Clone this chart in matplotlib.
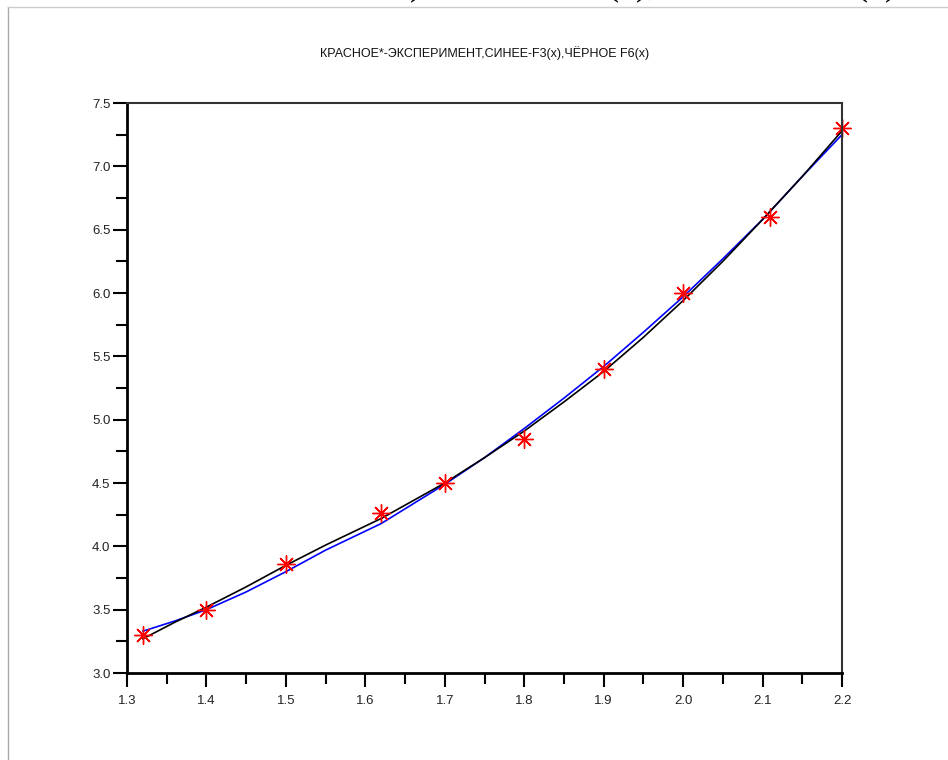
import numpy as np
import matplotlib
matplotlib.use("Agg")
import matplotlib.pyplot as plt
from matplotlib.lines import Line2D
from matplotlib.ticker import MultipleLocator

# experimental points (red asterisks)
x_exp = [1.32, 1.40, 1.50, 1.62, 1.70, 1.80, 1.90, 2.00, 2.11, 2.20]
y_exp = [3.30, 3.50, 3.86, 4.26, 4.50, 4.85, 5.40, 6.00, 6.60, 7.30]

# curves
x_fit = [1.32, 1.36, 1.40, 1.45, 1.50, 1.55, 1.62, 1.70, 1.75, 1.80,
         1.85, 1.90, 1.95, 2.00, 2.05, 2.10, 2.15, 2.20]
y_f3 = [3.33, 3.41, 3.50, 3.64, 3.80, 3.97, 4.18, 4.49, 4.70, 4.93,
        5.17, 5.42, 5.69, 5.97, 6.27, 6.58, 6.92, 7.25]
y_f6 = [3.27, 3.40, 3.52, 3.68, 3.85, 4.01, 4.22, 4.50, 4.70, 4.91,
        5.14, 5.38, 5.65, 5.94, 6.25, 6.58, 6.92, 7.28]

TITLE = "КРАСНОЕ*-ЭКСПЕРИМЕНТ,СИНЕЕ-F3(x),ЧЁРНОЕ F6(x)"
FONT = ["Liberation Sans", "DejaVu Sans"]

fig = plt.figure(figsize=(9.48, 7.60), dpi=100)
ax = fig.add_axes([127 / 948, 1 - 673 / 760, 715 / 948, 570 / 760])

ax.plot(x_fit, y_f3, color="blue", lw=1.2)
ax.plot(x_fit, y_f6, color="black", lw=1.2)
ax.plot(x_exp, y_exp, ls="none", marker=(8, 2, 0), ms=13, mew=1.0,
        color="red", clip_on=False)

ax.set_xlim(1.3, 2.2)
ax.set_ylim(3.0, 7.5)
ax.xaxis.set_major_locator(MultipleLocator(0.1))
ax.xaxis.set_minor_locator(MultipleLocator(0.05))
ax.yaxis.set_major_locator(MultipleLocator(0.5))
ax.yaxis.set_minor_locator(MultipleLocator(0.25))
ax.set_xticklabels([f"{v:.1f}" for v in ax.get_xticks()])
ax.set_yticklabels([f"{v:.1f}" for v in ax.get_yticks()])

ax.tick_params(which="major", direction="out", length=10, width=1.5,
               labelsize=9.5, pad=2, colors="black")
ax.tick_params(which="minor", direction="out", length=8, width=1.5)
ax.tick_params(axis="x", which="major", pad=6)
for lab in ax.get_xticklabels() + ax.get_yticklabels():
    lab.set_family(FONT)
    lab.set_color("#222222")

for side in ("left", "bottom"):
    ax.spines[side].set_linewidth(2.0)
for side in ("top", "right"):
    ax.spines[side].set_linewidth(1.5)
    ax.spines[side].set_color("#333333")

fig.text(485 / 948, 1 - 53 / 760, TITLE, ha="center", va="center",
         fontsize=9, family=FONT, color="#111111")

# page frame
fig.add_artist(Line2D([8 / 948, 8 / 948], [0, 1 - 7 / 760],
                      transform=fig.transFigure, color="#aaaaaa", lw=1))
fig.add_artist(Line2D([8 / 948, 1], [1 - 7 / 760, 1 - 7 / 760],
                      transform=fig.transFigure, color="#cccccc", lw=1))

# clipped remains of the text above the picture
serif = ["Liberation Serif", "DejaVu Serif"]
ytop = 1 + 6 / 760
fig.text(422 / 948, ytop, ")", ha="right", va="baseline", fontsize=26,
         family=serif)
fig.text(606 / 948, ytop, "(x),", ha="left", va="baseline", fontsize=26,
         family=serif)
fig.text(855 / 948, ytop, "(x)", ha="left", va="baseline", fontsize=26,
         family=serif)

fig.savefig("out.png", dpi=100)
